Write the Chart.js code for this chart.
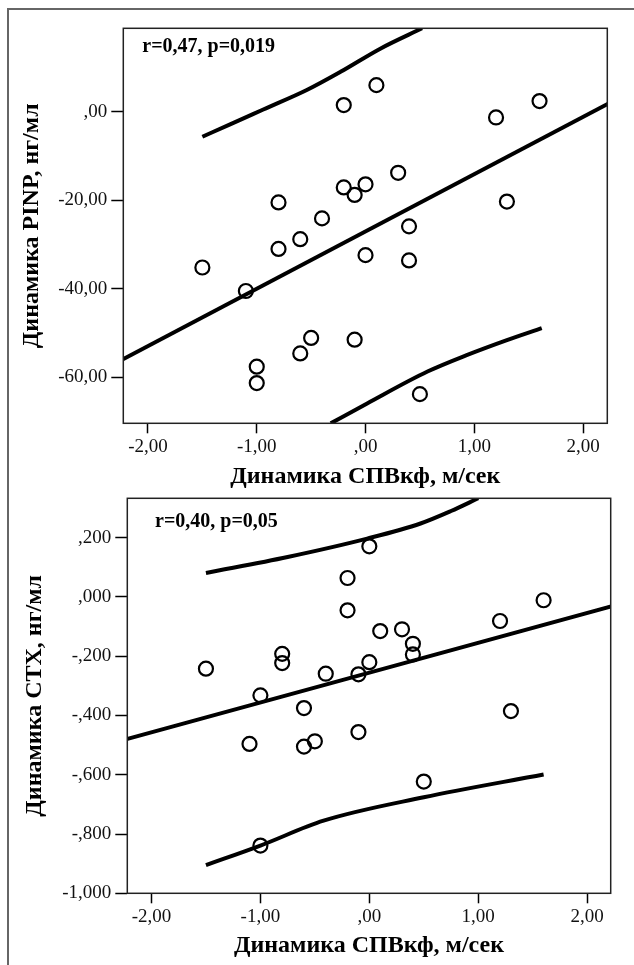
<!DOCTYPE html>
<html>
<head>
<meta charset="utf-8">
<script src="https://cdn.jsdelivr.net/npm/chart.js@4.4.0/dist/chart.umd.min.js"></script>
<style>
  html, body { margin: 0; padding: 0; background: #fff; }
  body { width: 634px; height: 965px; position: relative; overflow: hidden; }
  #frame { position: absolute; left: 7px; top: 8px; right: 0; bottom: 0;
           border-left: 2px solid #666; border-top: 2px solid #666; }
  canvas { position: absolute; left: 0; }
  #topChart { top: 0; }
  #bottomChart { top: 480px; }
</style>
</head>
<body>
<div id="frame"></div>
<canvas id="topChart" width="634" height="500"></canvas>
<canvas id="bottomChart" width="634" height="485"></canvas>
<script>
// Динамика СПВкф (общая ось X для обоих графиков)
const spvValues = [-1.5, -1.1, -1.0, -1.0, -0.8, -0.8, -0.6, -0.6, -0.5, -0.4, -0.2, -0.2,
                   -0.1, -0.1, 0.0, 0.0, 0.1, 0.3, 0.4, 0.4, 0.5, 1.2, 1.3, 1.6];
// Динамика PINP
const pinpValues = [-35.2, -40.5, -57.6, -61.3, -20.5, -31.0, -28.8, -54.6, -51.1, -24.1, -17.1, 1.5,
                    -18.8, -51.5, -16.4, -32.4, 6.0, -13.8, -25.9, -33.6, -63.8, -1.3, -20.3, 2.4];
// Динамика CTX
const ctxValues = [-0.242, -0.496, -0.332, -0.839, -0.192, -0.223, -0.375, -0.505, -0.487, -0.259, 0.064, -0.045,
                   -0.261, -0.456, 0.171, -0.220, -0.115, -0.109, -0.158, -0.194, -0.623, -0.081, -0.385, -0.011];

// линия регрессии и границы интервала
const pinpFitX = [-2.23, 2.23];
const pinpFitY = [-55.9, 1.8];
const pinpUpperX = [-1.5, -1.24, -0.94, -0.54, -0.23, 0.14, 0.52];
const pinpUpperY = [-5.65, -2.8, 0.5, 4.9, 9.0, 14.3, 18.84];
const pinpLowerX = [-0.32, 0.015, 0.57, 0.93, 1.30, 1.62];
const pinpLowerY = [-70.4, -65.9, -58.7, -55.0, -51.6, -48.9];

const ctxFitX = [-2.22, 2.22];
const ctxFitY = [-0.479, -0.0315];
const ctxUpperX = [-1.5, -0.75, -0.02, 0.47, 0.75, 1.0];
const ctxUpperY = [0.081, 0.135, 0.197, 0.248, 0.290, 0.333];
const ctxLowerX = [-1.5, -1.0, -0.42, 0.5, 1.6];
const ctxLowerY = [-0.905, -0.839, -0.755, -0.676, -0.599];

// подписи осей
const xTicks = [-2, -1, 0, 1, 2];
const xTickLabels = ['-2,00', '-1,00', ',00', '1,00', '2,00'];
const pinpTicks = [0, -20, -40, -60];
const pinpTickLabels = [',00', '-20,00', '-40,00', '-60,00'];
const ctxTicks = [0.2, 0, -0.2, -0.4, -0.6, -0.8, -1.0];
const ctxTickLabels = [',200', ',000', '-,200', '-,400', '-,600', '-,800', '-1,000'];

const xTitle = 'Динамика СПВкф, м/сек';
const pinpTitle = 'Динамика PINP, нг/мл';
const ctxTitle = 'Динамика CTX, нг/мл';
const pinpStat = 'r=0,47, p=0,019';
const ctxStat = 'r=0,40, p=0,05';

const FONT = '"Liberation Serif", "Times New Roman", serif';

function pts(xs, ys) {
  return xs.map((x, i) => ({ x: x, y: ys[i] }));
}

function curve(xs, ys) {
  return {
    data: pts(xs, ys), showLine: true, pointRadius: 0, borderColor: '#000',
    borderWidth: 4, cubicInterpolationMode: 'monotone', clip: 0, fill: false
  };
}

// рамка области графика и подпись r, p
const boxPlugin = {
  id: 'box',
  afterDraw(chart, args, opts) {
    const { ctx, chartArea: a } = chart;
    ctx.save();
    ctx.strokeStyle = '#222';
    ctx.lineWidth = 1.5;
    ctx.strokeRect(a.left, a.top, a.right - a.left, a.bottom - a.top);
    ctx.font = 'bold 20px ' + FONT;
    ctx.fillStyle = '#000';
    ctx.textBaseline = 'middle';
    ctx.fillText(opts.text, a.left + opts.dx, a.top + opts.dy);
    ctx.restore();
  }
};

function makeChart(id, o) {
  const el = document.getElementById(id);
  return new Chart(el.getContext('2d'), {
    type: 'scatter',
    data: {
      datasets: [
        {
          data: pts(spvValues, o.yValues), pointRadius: 7, pointBorderWidth: 2.2,
          pointBorderColor: '#000', pointBackgroundColor: 'rgba(0,0,0,0)'
        },
        curve(o.fitX, o.fitY),
        curve(o.upX, o.upY),
        curve(o.loX, o.loY)
      ]
    },
    options: {
      responsive: false,
      animation: false,
      layout: { padding: o.padding },
      plugins: {
        legend: { display: false },
        tooltip: { enabled: false },
        box: { text: o.stat, dx: o.statDx, dy: o.statDy }
      },
      scales: {
        x: {
          type: 'linear', min: o.xMin, max: o.xMax,
          afterBuildTicks: s => { s.ticks = xTicks.map(v => ({ value: v })); },
          afterFit: s => { s.height = o.xHeight; },
          ticks: {
            callback: v => xTickLabels[xTicks.indexOf(v)],
            font: { family: FONT, size: 19 }, color: '#111', padding: 2,
            maxRotation: 0, autoSkip: false
          },
          grid: { drawOnChartArea: false, tickLength: 10, tickColor: '#000', tickWidth: 1.5 },
          border: { display: false },
          title: {
            display: true, text: xTitle, color: '#000',
            font: { family: FONT, size: 24, weight: 'bold' },
            padding: { top: 0, bottom: o.xTitlePad }
          }
        },
        y: {
          type: 'linear', min: o.yMin, max: o.yMax,
          afterBuildTicks: s => { s.ticks = o.yTicks.map(v => ({ value: v })); },
          afterFit: s => { s.width = o.yWidth; },
          ticks: {
            callback: v => o.yTickLabels[o.yTicks.indexOf(v)],
            font: { family: FONT, size: 19 }, color: '#111', padding: 4, autoSkip: false
          },
          grid: { drawOnChartArea: false, tickLength: 12, tickColor: '#000', tickWidth: 1.5 },
          border: { display: false },
          title: {
            display: true, text: o.yTitle, color: '#000',
            font: { family: FONT, size: 24, weight: 'bold' },
            padding: { top: o.yTitlePad, bottom: 0 }
          }
        }
      }
    },
    plugins: [boxPlugin]
  });
}

makeChart('topChart', {
  yValues: pinpValues, fitX: pinpFitX, fitY: pinpFitY,
  upX: pinpUpperX, upY: pinpUpperY, loX: pinpLowerX, loY: pinpLowerY,
  xMin: -2.227, xMax: 2.223, yMin: -70.39, yMax: 18.84,
  yTicks: pinpTicks, yTickLabels: pinpTickLabels, yTitle: pinpTitle,
  stat: pinpStat, statDx: 19, statDy: 19,
  padding: { left: 0, top: 28.3, right: 26.7, bottom: 0 },
  xHeight: 76.7, yWidth: 123.3, xTitlePad: 8.6, yTitlePad: 17.6
});

makeChart('bottomChart', {
  yValues: ctxValues, fitX: ctxFitX, fitY: ctxFitY,
  upX: ctxUpperX, upY: ctxUpperY, loX: ctxLowerX, loY: ctxLowerY,
  xMin: -2.222, xMax: 2.216, yMin: -1.0, yMax: 0.333,
  yTicks: ctxTicks, yTickLabels: ctxTickLabels, yTitle: ctxTitle,
  stat: ctxStat, statDx: 27.7, statDy: 23.4,
  padding: { left: 0, top: 18.3, right: 23.3, bottom: 0 },
  xHeight: 71.7, yWidth: 127.3, xTitlePad: 5.1, yTitlePad: 20.6
});
</script>
</body>
</html>
